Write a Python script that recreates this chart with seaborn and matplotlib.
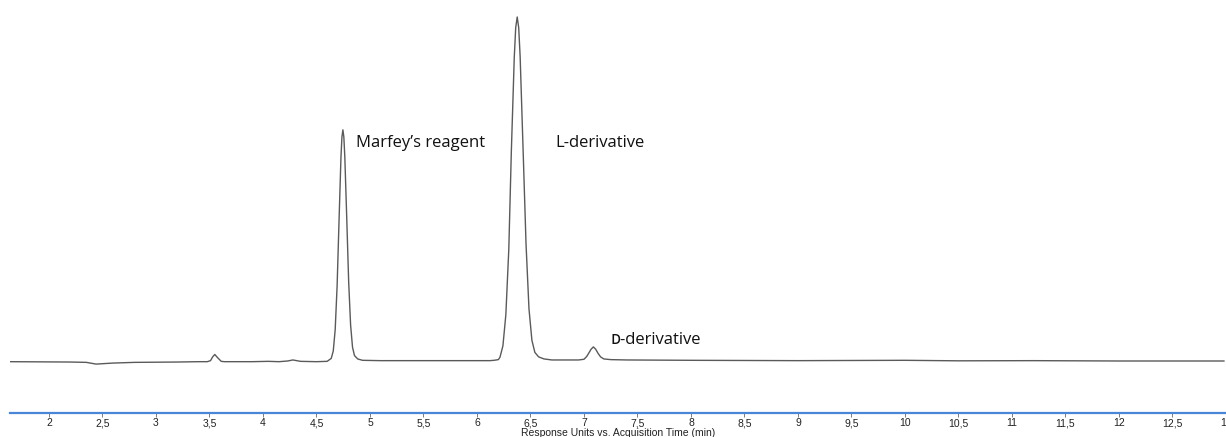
import matplotlib
matplotlib.use("Agg")
import matplotlib.pyplot as plt
import seaborn as sns
import pandas as pd

# Chromatogram trace: acquisition time (min) and detector response (relative units)
time_min = [
    1.636, 2.20, 2.35, 2.44, 2.60, 2.80, 3.20, 3.40, 3.48, 3.51, 3.53, 3.55,
    3.575, 3.61, 3.64, 3.90, 4.05, 4.15, 4.23, 4.28, 4.35, 4.50, 4.60,
    4.638, 4.657, 4.675, 4.693, 4.711, 4.729, 4.738, 4.747, 4.756, 4.765,
    4.783, 4.801, 4.819, 4.837, 4.855, 4.885, 4.93, 5.10, 5.50, 6.00, 6.12,
    6.16, 6.20, 6.215, 6.2425, 6.270, 6.2975, 6.321, 6.3485, 6.362, 6.376,
    6.390, 6.4035, 6.431, 6.4585, 6.486, 6.5135, 6.541, 6.576, 6.626, 6.70,
    6.95, 7.00, 7.025, 7.045, 7.066, 7.088, 7.110, 7.130, 7.155, 7.185,
    7.25, 7.40, 8.00, 9.00, 10.00, 10.50, 11.20, 12.00, 12.983,
]
response = [
    -0.2, -0.3, -0.4, -0.9, -0.6, -0.4, -0.3, -0.2, -0.2, 0.1, 1.2, 1.9,
    1.0, -0.1, -0.2, -0.2, -0.1, -0.2, 0.0, 0.3, -0.1, -0.2, -0.1,
    0.75, 2.9, 9.1, 21.8, 40.8, 59.3, 65.1, 67.2, 65.1, 59.3,
    41.5, 23.0, 10.5, 4.0, 1.6, 0.6, 0.2, 0.1, 0.1, 0.1, 0.1,
    0.2, 0.4, 1.1, 4.4, 13.5, 32.5, 60.7, 88.2, 96.9, 100.0,
    96.9, 88.5, 61.5, 34.0, 15.2, 6.0, 2.5, 1.2, 0.6, 0.3,
    0.3, 0.5, 1.3, 2.3, 3.4, 4.1, 3.4, 2.3, 1.2, 0.6,
    0.4, 0.3, 0.2, 0.1, 0.2, 0.05, 0.1, 0.0, 0.0,
]

# Peak annotations
peak_labels = ["Marfey\u2019s reagent", "L-derivative", "\u1d05-derivative"]
label_time = [4.874, 6.737, 7.25]
label_resp = [63.3, 63.4, 6.1]

# Time axis ticks
tick_values = [2, 2.5, 3, 3.5, 4, 4.5, 5, 5.5, 6, 6.5, 7, 7.5, 8, 8.5, 9,
               9.5, 10, 10.5, 11, 11.5, 12, 12.5, 13]
tick_labels = ["2", "2,5", "3", "3,5", "4", "4,5", "5", "5,5", "6", "6,5",
               "7", "7,5", "8", "8,5", "9", "9,5", "10", "10,5", "11", "11,5",
               "12", "12,5", "13"]

sns.set_style("white")

fig = plt.figure(figsize=(12.26, 4.37), dpi=100)
ax = fig.add_axes([10 / 1226, 24.3 / 437, 1 - 10 / 1226, 412.7 / 437])

trace = pd.DataFrame({"time": time_min, "response": response})
sns.lineplot(data=trace, x="time", y="response", ax=ax, estimator=None,
             sort=False, color="#5a5a5a", linewidth=1.0)

ax.set_xlim(1.636, 12.983)
ax.set_ylim(-15.03, 104.94)

for s in ["top", "left", "right"]:
    ax.spines[s].set_visible(False)
ax.spines["bottom"].set_color("#4A86D8")
ax.spines["bottom"].set_linewidth(1.6)

ax.set_yticks([])
ax.set_ylabel("")
ax.set_xticks(tick_values)
ax.set_xticklabels(tick_labels, family="Liberation Sans", fontsize=7.5,
                   color="#222222")
ax.tick_params(axis="x", direction="out", length=3, width=0.6,
               color="#666666", pad=1, bottom=True)
ax.set_xlabel("Response Units vs. Acquisition Time (min)",
              family="Liberation Sans", fontsize=7.5, color="#222222",
              labelpad=0)

for txt, tx, ty in zip(peak_labels, label_time, label_resp):
    ax.text(tx, ty, txt, ha="left", va="center", fontsize=12,
            color="#111111", family=["Open Sans", "DejaVu Sans"])

fig.savefig("out.png", dpi=100)
